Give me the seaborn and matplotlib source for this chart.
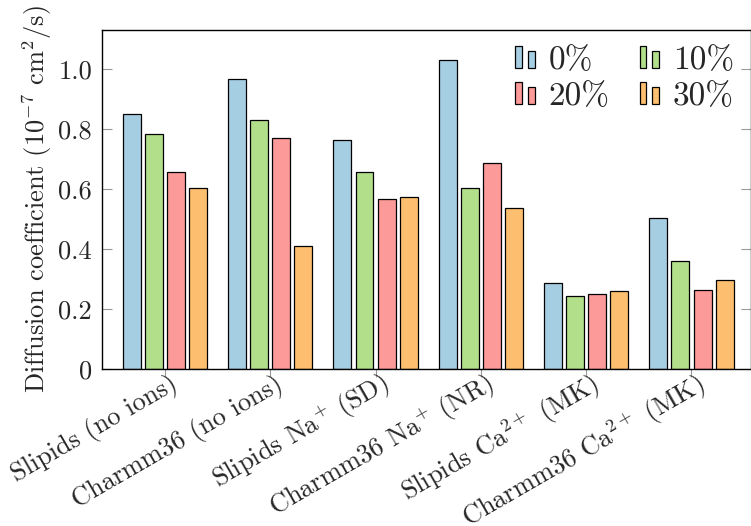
import numpy as np
import pandas as pd
import matplotlib
matplotlib.use("Agg")
import matplotlib.pyplot as plt
import matplotlib.transforms as mtransforms
from matplotlib.patches import Rectangle
from matplotlib.legend_handler import HandlerBase
import seaborn as sns

# Diffusion coefficients (1e-7 cm^2/s) per force field / ion setup
systems = [
    "Slipids (no ions)",
    "Charmm36 (no ions)",
    "Slipids Na$^{+}$ (SD)",
    "Charmm36 Na$^{+}$ (NR)",
    "Slipids Ca$^{2+}$ (MK)",
    "Charmm36 Ca$^{2+}$ (MK)",
]
concentrations = ["0%", "10%", "20%", "30%"]
d_0 = [0.851, 0.967, 0.764, 1.030, 0.286, 0.505]
d_10 = [0.784, 0.831, 0.658, 0.605, 0.243, 0.362]
d_20 = [0.658, 0.771, 0.568, 0.688, 0.249, 0.262]
d_30 = [0.605, 0.412, 0.575, 0.538, 0.259, 0.296]
colors = ["#a6cee3", "#b2df8a", "#fb9a99", "#fdbf6f"]
yticks = [0, 0.2, 0.4, 0.6, 0.8, 1.0]
ytick_labels = ["0", "0.2", "0.4", "0.6", "0.8", "1.0"]

rows = []
for conc, vals in zip(concentrations, [d_0, d_10, d_20, d_30]):
    for sys_name, v in zip(systems, vals):
        rows.append({"system": sys_name, "conc": conc, "D": v})
df = pd.DataFrame(rows)

sns.set_style("white")
plt.rcParams["font.family"] = "serif"
plt.rcParams["font.serif"] = ["cmr10"]
plt.rcParams["mathtext.fontset"] = "cm"
plt.rcParams["axes.formatter.use_mathtext"] = True

FS = 19

fig = plt.figure(figsize=(7.51, 5.26), dpi=100)
ax = fig.add_axes([101.7 / 751, 1 - 369 / 526, 1 - 101.7 / 751, (369 - 29.5) / 526])

sns.barplot(
    data=df, x="system", y="D", hue="conc",
    order=systems, hue_order=concentrations, palette=colors,
    width=0.84, gap=0.19, edgecolor="black", linewidth=0.9,
    saturation=1, ax=ax, legend=False,
)

ax.set_xlim(-0.60, 5.565)
ax.set_ylim(0, 1.133)
ax.set_yticks(yticks)
ax.set_yticklabels(ytick_labels)
ax.set_xlabel("")
ax.set_ylabel(r"Diffusion coefficient (10$^{-7}$ cm$^{2}$/s)", fontsize=FS, labelpad=3)

for s in ax.spines.values():
    s.set_color("black")
    s.set_linewidth(1.0)

ax.tick_params(axis="y", which="both", direction="in", length=7, width=0.8,
               color="#999999", labelsize=FS, left=True, right=True, pad=7)
ax.tick_params(axis="x", direction="out", length=6, width=0.8,
               color="#999999", labelsize=FS, bottom=True, top=False, pad=4)
shift = mtransforms.ScaledTranslation(11 / 100, 0, fig.dpi_scale_trans)
for lbl in ax.get_xticklabels():
    lbl.set_rotation(30)
    lbl.set_rotation_mode("anchor")
    lbl.set_ha("right")
    lbl.set_va("center")
    lbl.set_transform(lbl.get_transform() + shift)


class TwoBarHandler(HandlerBase):
    def create_artists(self, legend, orig_handle, xdescent, ydescent,
                       width, height, fontsize, trans):
        fc = orig_handle.get_facecolor()
        w = width * 0.33
        y0 = -ydescent + 0.05 * height
        r1 = Rectangle((-xdescent, y0), w, height * 0.97,
                       facecolor=fc, edgecolor="black", linewidth=0.9, transform=trans)
        r2 = Rectangle((-xdescent + width * 0.64, y0), w, height * 0.74,
                       facecolor=fc, edgecolor="black", linewidth=0.9, transform=trans)
        return [r1, r2]


# column-major fill: rows read 0%/10% then 20%/30%
order = [0, 2, 1, 3]
handles = [Rectangle((0, 0), 1, 1, facecolor=colors[i], edgecolor="black") for i in order]
labels = [concentrations[i] for i in order]
ax.legend(handles, labels, handler_map={Rectangle: TwoBarHandler()},
          ncol=2, frameon=False, fontsize=24, loc="upper right",
          bbox_to_anchor=(0.974, 0.95), handlelength=0.6, handleheight=0.65,
          handletextpad=0.4, columnspacing=0.9, labelspacing=0.2,
          borderaxespad=0.0, borderpad=0.0)

fig.savefig("out.png", dpi=100)
